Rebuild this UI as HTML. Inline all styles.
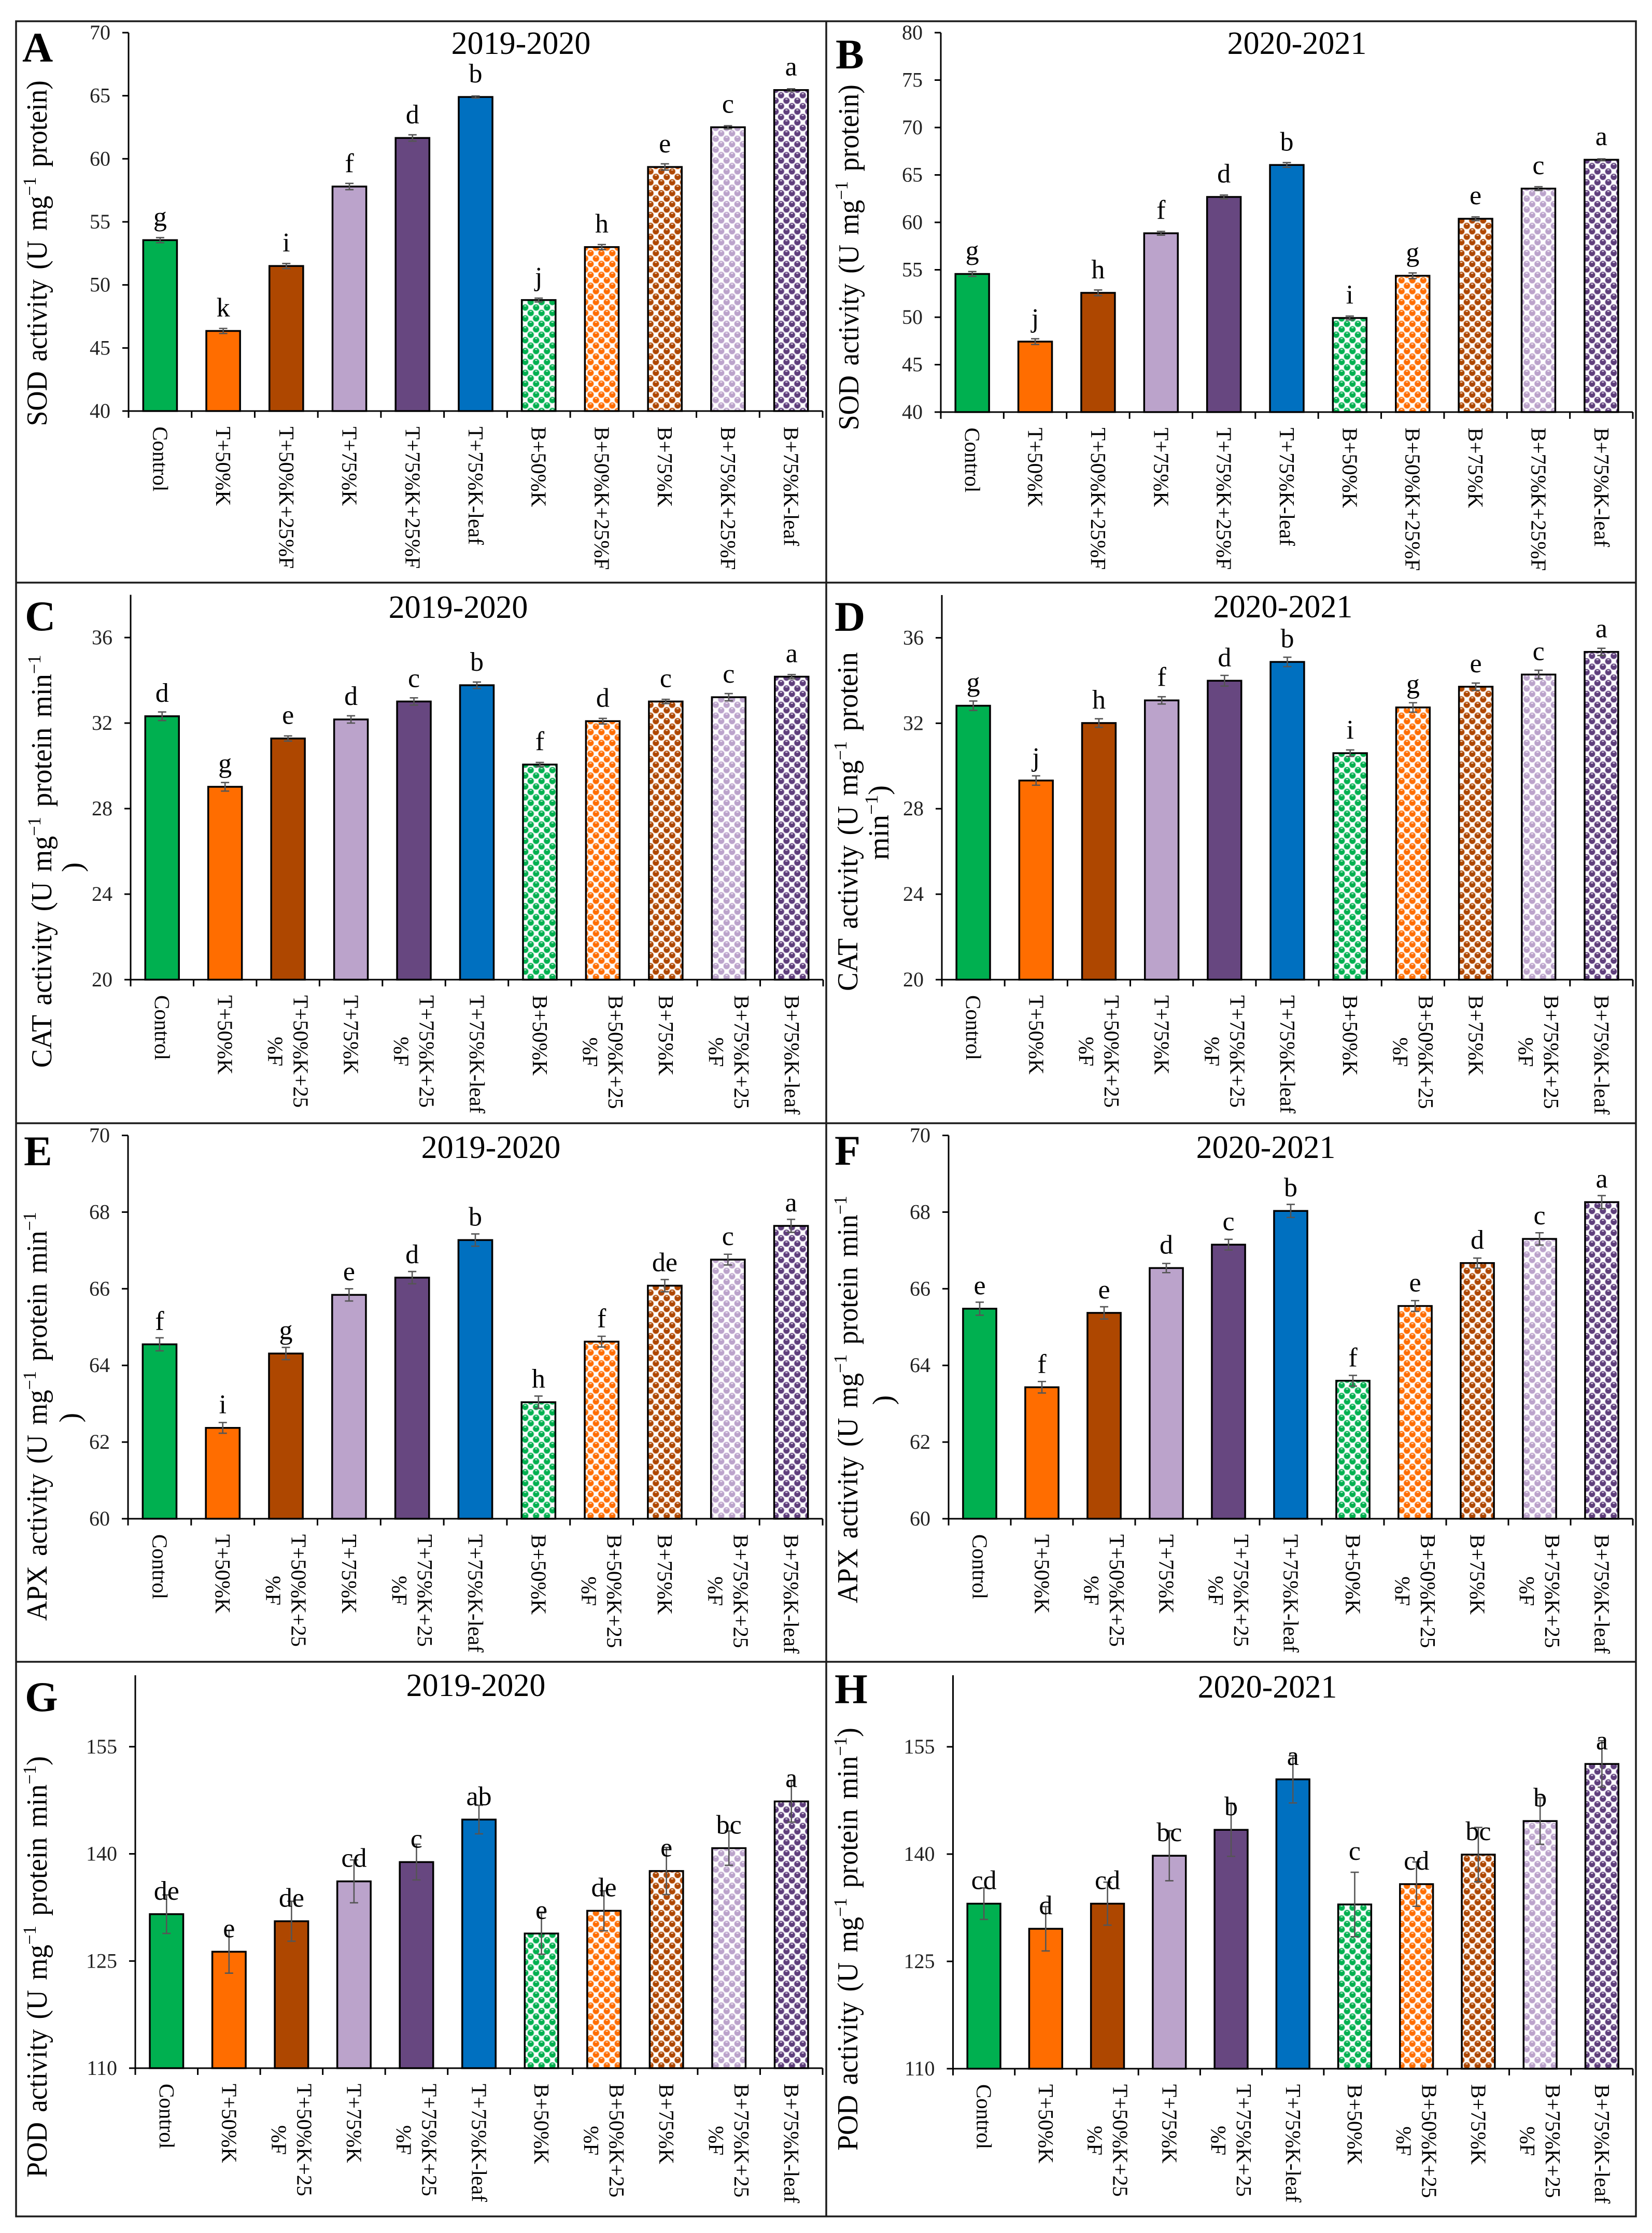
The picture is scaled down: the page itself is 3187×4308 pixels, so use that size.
<!DOCTYPE html>
<html lang="en">
<head>
<meta charset="utf-8">
<title>Antioxidant enzyme activity panels</title>
<style>
html,body{margin:0;padding:0;background:#fff;}
svg{display:block;}
text{font-family:"Liberation Serif","Times New Roman",serif;}
</style>
</head>
<body>
<svg id="figure" xmlns="http://www.w3.org/2000/svg" width="3187" height="4308" viewBox="0 0 3187 4308">
  <defs id="pattern-defs"></defs>
  <rect x="0" y="0" width="3187" height="4308" fill="#ffffff"/>
  <g fill="none" stroke="#1c1c1c" stroke-width="3.5">
    <rect x="31" y="41" width="3125" height="4235"/>
    <line x1="1594" y1="41" x2="1594" y2="4276"/>
    <line x1="31" y1="1124" x2="3156" y2="1124"/>
    <line x1="31" y1="2167" x2="3156" y2="2167"/>
    <line x1="31" y1="3206" x2="3156" y2="3206"/>
  </g>
  <g id="panels"></g>
</svg>
<script>
const categoriesSingleLine = ['Control','T+50%K','T+50%K+25%F','T+75%K','T+75%K+25%F','T+75%K-leaf','B+50%K','B+50%K+25%F','B+75%K','B+75%K+25%F','B+75%K-leaf'];
const categoriesWrapped = ['Control','T+50%K','T+50%K+25|%F','T+75%K','T+75%K+25|%F','T+75%K-leaf','B+50%K','B+50%K+25|%F','B+75%K','B+75%K+25|%F','B+75%K-leaf'];

const sodTicks2019 = [40,45,50,55,60,65,70];
const sodValues2019 = [53.55,46.35,51.5,57.8,61.65,64.9,48.8,53.0,59.35,62.5,65.45];
const sodErrors2019 = [0.2,0.2,0.2,0.25,0.25,0.08,0.15,0.2,0.25,0.12,0.1];
const sodLetters2019 = ['g','k','i','f','d','b','j','h','e','c','a'];

const sodTicks2020 = [40,45,50,55,60,65,70,75,80];
const sodValues2020 = [54.56,47.43,52.57,58.85,62.68,66.05,49.92,54.37,60.38,63.56,66.6];
const sodErrors2020 = [0.25,0.3,0.3,0.2,0.2,0.25,0.2,0.3,0.2,0.2,0.1];
const sodLetters2020 = ['g','j','h','f','d','b','i','g','e','c','a'];

const catTicks2019 = [20,24,28,32,36];
const catValues2019 = [32.32,29.02,31.28,32.17,33.01,33.77,30.06,32.09,33.01,33.21,34.17];
const catErrors2019 = [0.2,0.2,0.12,0.17,0.17,0.15,0.1,0.13,0.1,0.17,0.1];
const catLetters2019 = ['d','g','e','d','c','b','f','d','c','c','a'];

const catTicks2020 = [20,24,28,32,36];
const catValues2020 = [32.82,29.32,32.01,33.07,33.99,34.87,30.6,32.74,33.71,34.28,35.34];
const catErrors2020 = [0.22,0.22,0.2,0.17,0.25,0.22,0.15,0.22,0.17,0.2,0.17];
const catLetters2020 = ['g','j','h','f','d','b','i','g','e','c','a'];

const apxTicks2019 = [60,62,64,66,68,70];
const apxValues2019 = [64.55,62.37,64.31,65.84,66.29,67.27,63.04,64.62,66.08,66.76,67.64];
const apxErrors2019 = [0.17,0.14,0.16,0.16,0.16,0.16,0.16,0.14,0.16,0.14,0.17];
const apxLetters2019 = ['f','i','g','e','d','b','h','f','de','c','a'];

const apxTicks2020 = [60,62,64,66,68,70];
const apxValues2020 = [65.48,63.43,65.37,66.54,67.15,68.03,63.6,65.55,66.67,67.3,68.26];
const apxErrors2020 = [0.17,0.15,0.16,0.12,0.14,0.17,0.14,0.14,0.13,0.16,0.17];
const apxLetters2020 = ['e','f','e','d','c','b','f','e','d','c','a'];

const podTicks2019 = [110,125,140,155];
const podValues2019 = [131.56,126.3,130.57,136.15,138.85,144.8,128.85,132.03,137.6,140.8,147.34];
const podErrors2019 = [2.7,3.0,2.8,3.0,2.5,2.0,2.9,2.8,3.3,2.4,2.9];
const podLetters2019 = ['de','e','de','cd','c','ab','e','de','e','bc','a'];

const podTicks2020 = [110,125,140,155];
const podValues2020 = [133.07,129.56,133.07,139.77,143.39,150.45,132.96,135.8,139.93,144.62,152.6];
const podErrors2020 = [2.2,3.1,3.0,3.5,3.7,3.3,4.5,3.1,3.8,3.25,3.25];
const podLetters2020 = ['cd','d','cd','bc','b','a','c','cd','bc','b','a'];

const NS = 'http://www.w3.org/2000/svg';
const barFills = ['#00B050','#FF6D00','#AE4700','#BBA3CB','#674780','#0070C0','url(#dots-green)','url(#dots-orange)','url(#dots-brown)','url(#dots-lilac)','url(#dots-purple)'];
const dotDefs = [['green','#00B050','#b5e8cc'],['orange','#FF6D00','#ffd4b5'],['brown','#AE4700','#eed0bc'],['lilac','#BBA3CB','#ece4f1'],['purple','#5F3F7C','#d9cfe2']];

const panels = [
  {key:'A',year:'2019-2020',cats:categoriesSingleLine,values:sodValues2019,errors:sodErrors2019,letters:sodLetters2019,ticks:sodTicks2019,max:70,left:248,right:1587,top:63,bottom:793,titleX:1005,titleY:104,tagX:43,tagY:119,
   yTitle:'SOD activity (U mg^\u22121^ protein)',yTitleX:90,yTitleStart:822,yTitleLen:667},
  {key:'B',year:'2020-2021',cats:categoriesSingleLine,values:sodValues2020,errors:sodErrors2020,letters:sodLetters2020,ticks:sodTicks2020,max:80,left:1815,right:3150,top:63,bottom:795,titleX:2502,titleY:104,tagX:1612,tagY:132,
   yTitle:'SOD activity (U mg^\u22121^ protein)',yTitleX:1656,yTitleStart:830,yTitleLen:667},
  {key:'C',year:'2019-2020',cats:categoriesWrapped,values:catValues2019,errors:catErrors2019,letters:catLetters2019,ticks:catTicks2019,max:38,left:252,right:1588,top:1147.5,bottom:1890,titleX:884,titleY:1192,tagX:48,tagY:1216,
   yTitle:'CAT activity (U mg^\u22121^ protein min^\u22121^',yTitleX:99,yTitleStart:2060,yTitleLen:797,yTitle2:')',yTitle2X:158,yTitle2Y:1673},
  {key:'D',year:'2020-2021',cats:categoriesWrapped,values:catValues2020,errors:catErrors2020,letters:catLetters2020,ticks:catTicks2020,max:38,left:1817,right:3150,top:1148,bottom:1890,titleX:2475,titleY:1191,tagX:1610,tagY:1217,
   yTitle:'CAT activity (U mg^\u22121^ protein',yTitleX:1654,yTitleStart:1912,yTitleLen:654,yTitle2:'min^\u22121^)',yTitle2X:1714,yTitle2Y:1587},
  {key:'E',year:'2019-2020',cats:categoriesWrapped,values:apxValues2019,errors:apxErrors2019,letters:apxLetters2019,ticks:apxTicks2019,max:70,left:247,right:1587,top:2190.5,bottom:2930,titleX:947,titleY:2234,tagX:46,tagY:2248,
   yTitle:'APX activity (U mg^\u22121^ protein min^\u22121^',yTitleX:90,yTitleStart:3127,yTitleLen:789,yTitle2:')',yTitle2X:153,yTitle2Y:2735},
  {key:'F',year:'2020-2021',cats:categoriesWrapped,values:apxValues2020,errors:apxErrors2020,letters:apxLetters2020,ticks:apxTicks2020,max:70,left:1830,right:3150,top:2190.5,bottom:2930,titleX:2442,titleY:2234,tagX:1610,tagY:2247,
   yTitle:'APX activity (U mg^\u22121^ protein min^\u22121^',yTitleX:1654,yTitleStart:3093,yTitleLen:786,yTitle2:')',yTitle2X:1722,yTitle2Y:2701},
  {key:'G',year:'2019-2020',cats:categoriesWrapped,values:podValues2019,errors:podErrors2019,letters:podLetters2019,ticks:podTicks2019,max:165,left:261,right:1587,top:3232,bottom:3990,titleX:918,titleY:3272,tagX:48,tagY:3301,
   yTitle:'POD activity (U mg^\u22121^ protein min^\u22121^)',yTitleX:90,yTitleStart:4201,yTitleLen:813},
  {key:'H',year:'2020-2021',cats:categoriesWrapped,values:podValues2020,errors:podErrors2020,letters:podLetters2020,ticks:podTicks2020,max:165,left:1838.5,right:3150,top:3232,bottom:3991,titleX:2445,titleY:3275,tagX:1610,tagY:3286,liftedLetter:6,liftedBy:58,
   yTitle:'POD activity (U mg^\u22121^ protein min^\u22121^)',yTitleX:1654,yTitleStart:4149,yTitleLen:816}
];

function buildPatterns() {
  const centers = [[5.25,5.25],[26.25,5.25],[5.25,26.25],[26.25,26.25],[15.75,15.75],[-5.25,15.75],[15.75,-5.25],[-5.25,-5.25]];
  let out = '';
  dotDefs.forEach(function (d) {
    out += '<pattern id="dots-' + d[0] + '" patternUnits="userSpaceOnUse" width="21" height="21"><rect width="21" height="21" fill="#fff"/>';
    centers.forEach(function (c) {
      out += '<circle cx="' + c[0] + '" cy="' + c[1] + '" r="7" fill="' + d[2] + '"/>';
      out += '<circle cx="' + c[0] + '" cy="' + c[1] + '" r="5.8" fill="' + d[1] + '"/>';
      out += '<ellipse cx="' + c[0] + '" cy="' + (c[1] - 3) + '" rx="2.3" ry="1.1" fill="' + d[2] + '"/>';
    });
    out += '</pattern>';
  });
  document.getElementById('pattern-defs').innerHTML = out;
}

function make(tag, attrs, parent) {
  const el = document.createElementNS(NS, tag);
  Object.keys(attrs).forEach(function (k) { el.setAttribute(k, attrs[k]); });
  parent.appendChild(el);
  return el;
}

function fillRichText(textEl, source) {
  const parts = source.split('^');
  let shifted = false;
  parts.forEach(function (part, i) {
    if (!part) return;
    const span = document.createElementNS(NS, 'tspan');
    span.textContent = part;
    if (i % 2 === 1) {
      span.setAttribute('font-size', '36');
      span.setAttribute('dy', '-21');
      shifted = true;
    } else if (shifted) {
      span.setAttribute('dy', '21');
      shifted = false;
    }
    textEl.appendChild(span);
  });
}

function xBand(panel) {
  const step = (panel.right - panel.left) / panel.cats.length;
  return {
    step: step,
    center: function (i) { return panel.left + step * (i + 0.5); },
    edge: function (i) { return panel.left + step * i; }
  };
}

function yAxisScale(panel) {
  const min = panel.ticks[0];
  return function (v) {
    return panel.bottom - (v - min) / (panel.max - min) * (panel.bottom - panel.top);
  };
}

function drawBars(g, panel, x, y) {
  const barWidth = x.step * 0.535;
  panel.values.forEach(function (value, i) {
    const top = y(value);
    const bar = make('rect', {x: x.center(i) - barWidth / 2, y: top, width: barWidth, height: panel.bottom - top, fill: barFills[i], stroke: '#000', 'stroke-width': 3.5}, g);
    
    
  });
}

function drawErrors(g, panel, x, y) {
  panel.errors.forEach(function (err, i) {
    const cx = x.center(i);
    const hi = y(panel.values[i] + err);
    const lo = y(panel.values[i] - err);
    const eb = make('path', {d: 'M' + (cx - 8) + ' ' + hi + 'H' + (cx + 8) + 'M' + cx + ' ' + hi + 'V' + lo + 'M' + (cx - 8) + ' ' + lo + 'H' + (cx + 8), fill: 'none', stroke: '#555', 'stroke-width': 2.6}, g);
    
    
  });
}

function drawLetters(g, panel, x, y) {
  panel.letters.forEach(function (letter, i) {
    const lift = panel.liftedLetter === i ? panel.liftedBy : 0;
    const t = make('text', {x: x.center(i), y: y(panel.values[i]) - 28 - lift, 'font-size': 52, 'text-anchor': 'middle', fill: '#000'}, g);
    t.textContent = letter;
    
    
  });
}

function drawAxes(g, panel, x, y) {
  const yLine = make('line', {x1: panel.left, y1: panel.top, x2: panel.left, y2: panel.bottom + 1.5, stroke: '#000', 'stroke-width': 3}, g);
  
  
  const xLine = make('line', {x1: panel.left, y1: panel.bottom, x2: panel.right, y2: panel.bottom, stroke: '#000', 'stroke-width': 3}, g);
  
  

  panel.ticks.forEach(function (tick) {
    const ty = y(tick);
    const mark = make('line', {x1: panel.left - 12, y1: ty, x2: panel.left, y2: ty, stroke: '#000', 'stroke-width': 3}, g);
    
    
    const label = make('text', {x: panel.left - 35, y: ty + 13, 'font-size': 40, 'text-anchor': 'end', fill: '#222'}, g);
    label.textContent = String(tick);
    
    
  });

  for (let i = 0; i <= panel.cats.length; i++) {
    const tx = x.edge(i);
    const mark = make('line', {x1: tx, y1: panel.bottom, x2: tx, y2: panel.bottom + 13, stroke: '#000', 'stroke-width': 3}, g);
    
    
  }

  panel.cats.forEach(function (cat, i) {
    const lines = cat.split('|');
    const nodes = lines.map(function (line) {
      const t = make('text', {x: 0, y: 13.5, 'font-size': 41, fill: '#000'}, g);
      t.textContent = line;
      
      
      return t;
    });
    const lengths = nodes.map(function (n) { return n.getComputedTextLength(); });
    const block = Math.max.apply(null, lengths);
    nodes.forEach(function (n, j) {
      const offset = lines.length === 2 ? (j === 0 ? 24.5 : -24.5) : 0;
      const startY = panel.bottom + 30 + (block - lengths[j]) / 2;
      n.setAttribute('transform', 'translate(' + (x.center(i) + offset) + ' ' + startY + ') rotate(90)');
    });
  });
}

function drawTitles(g, panel) {
  const title = make('text', {x: panel.titleX, y: panel.titleY, 'font-size': 62, 'text-anchor': 'middle', fill: '#000'}, g);
  title.textContent = panel.year;
  
  

  const tag = make('text', {x: panel.tagX, y: panel.tagY, 'font-size': 82, 'font-weight': 'bold', fill: '#000'}, g);
  tag.textContent = panel.key;
  
  

  const yt = make('text', {x: 0, y: 0, 'font-size': 56, 'word-spacing': 6, fill: '#000'}, g);
  fillRichText(yt, panel.yTitle);
  
  
  const stretch = panel.yTitleLen / yt.getComputedTextLength();
  yt.setAttribute('transform', 'translate(' + panel.yTitleX + ' ' + panel.yTitleStart + ') rotate(-90) scale(' + stretch + ' 1)');

  if (panel.yTitle2) {
    const yt2 = make('text', {x: 0, y: 0, 'font-size': 56, 'text-anchor': 'middle', fill: '#000'}, g);
    fillRichText(yt2, panel.yTitle2);
    
    
    yt2.setAttribute('transform', 'translate(' + panel.yTitle2X + ' ' + panel.yTitle2Y + ') rotate(-90)');
  }
}

buildPatterns();
const root = document.getElementById('panels');
panels.forEach(function (panel) {
  const g = make('g', {}, root);
  
  
  const x = xBand(panel);
  const y = yAxisScale(panel);
  drawBars(g, panel, x, y);
  drawAxes(g, panel, x, y);
  drawErrors(g, panel, x, y);
  drawLetters(g, panel, x, y);
  drawTitles(g, panel);
});
</script>
</body>
</html>
